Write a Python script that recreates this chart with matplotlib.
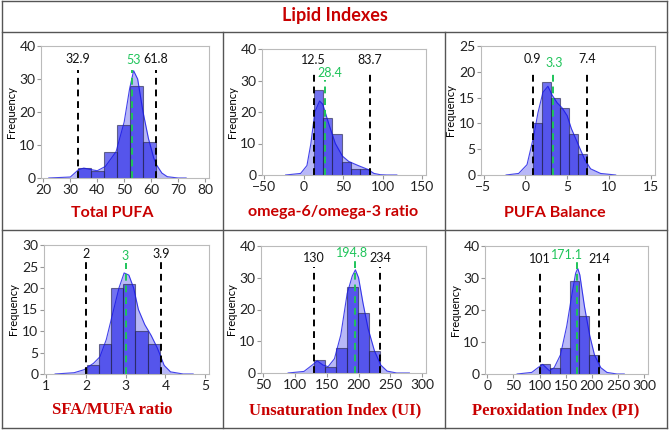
import numpy as np
import matplotlib.pyplot as plt
from matplotlib.lines import Line2D

# histogram counts (6 equal bins between bin_lo and bin_hi)
titles = ["Total PUFA", "omega-6/omega-3 ratio", "PUFA Balance",
          "SFA/MUFA ratio", "Unsaturation Index (UI)", "Peroxidation Index (PI)"]
counts = [[3, 2, 8, 16, 28, 11],
          [27, 18, 13, 4, 2, 2],
          [10, 18, 15, 13, 8, 4],
          [2, 7, 20, 21, 10, 7],
          [4, 2, 8, 27, 19, 7],
          [3, 2, 8, 29, 18, 6]]
bin_lo = [32.9, 12.5, 0.9, 2.02, 130, 101]
bin_hi = [61.8, 83.7, 7.4, 3.86, 234, 214]

# reference lines: lower / upper limit (black) and centre (green)
low_lbl = ["32.9", "12.5", "0.9", "2", "130", "101"]
low_val = [32.9, 12.5, 0.9, 2.0, 130, 101]
high_lbl = ["61.8", "83.7", "7.4", "3.9", "234", "214"]
high_val = [61.8, 83.7, 7.4, 3.9, 234, 214]
mid_lbl = ["53", "28.4", "3.3", "3", "194.8", "171.1"]
mid_val = [53, 26.5, 3.3, 3.0, 194.8, 171.1]
mid_lbl_x = [53.5, 33.5, 3.5, 2.98, 190, 153]

# density curves (scaled to counts)
kde_x = [[22, 30, 33, 35, 38, 40, 43, 47, 50, 52, 53.5, 55, 57, 59, 61, 62, 64, 66, 70, 73],
         [-23, -4, 4, 9, 14, 20, 24, 32, 40, 49, 57, 69, 81, 89, 97, 105, 118],
         [-2.3, -0.8, 0.2, 1.0, 1.5, 2.1, 2.7, 3.2, 3.8, 4.4, 5.0, 5.5, 6.3, 7.1, 7.8, 9.0, 10.8],
         [1.22, 1.7, 1.95, 2.19, 2.35, 2.51, 2.67, 2.83, 2.96, 3.08, 3.2, 3.32, 3.48, 3.64, 3.8, 3.97, 4.13, 4.45, 4.7],
         [89, 114, 127, 135, 144, 152, 162, 172, 182, 190, 195, 200, 207, 215, 225, 235, 245, 260, 280],
         [57, 85, 97, 106, 119, 128, 140, 152, 162, 169, 173, 177, 186, 196, 205, 217, 229, 248, 262]]
kde_y = [[0, 0.3, 2.5, 3, 2.5, 2.2, 3.5, 8, 17, 27, 32.5, 30, 20, 12, 6, 4, 1.5, 0.4, 0, 0],
         [0, 0.5, 3, 10, 20, 23.5, 22.5, 16, 10, 6, 4.3, 3, 1.8, 0.5, 0.1, 0, 0],
         [0, 0.3, 2, 7.5, 12, 16, 17.2, 15.5, 14, 13, 11.5, 9, 6, 3, 1.2, 0.3, 0],
         [0, 0.3, 1.0, 2.5, 4, 8, 14, 20, 23.5, 23, 20, 15, 11.5, 9, 6, 2, 0.5, 0, 0],
         [0, 0.5, 2.5, 3.8, 2.5, 2, 4.5, 12, 25, 30.5, 32.5, 30, 22, 14, 7, 2.5, 0.6, 0, 0],
         [0, 0.5, 2, 3, 1, 2, 6, 15, 25, 31.5, 33, 31, 21, 12, 6, 2, 0.5, 0, 0]]

xticks = [[20, 30, 40, 50, 60, 70, 80], [-50, 0, 50, 100, 150], [-5, 0, 5, 10, 15],
          [1, 2, 3, 4, 5], [50, 100, 150, 200, 250, 300], [0, 50, 100, 150, 200, 250, 300]]
yticks = [[0, 10, 20, 30, 40], [0, 10, 20, 30, 40], [0, 5, 10, 15, 20, 25],
          [0, 5, 10, 15, 20, 25, 30], [0, 10, 20, 30, 40], [0, 10, 20, 30, 40]]

# line tops / label heights (black then green)
blk_top = [32.7, 33.2, 20.4, 26.4, 33.4, 32.6]
blk_txt = [34.2, 34.6, 21.3, 26.6, 34.4, 34.0]
grn_top = [32.7, 30.3, 20.0, 25.7, 35.7, 35.3]
grn_txt = [34.0, 30.6, 20.5, 26.0, 36.0, 35.3]

W, H = 669, 430
boxes = [(41, 46, 209, 178), (262, 49, 426, 175), (481, 46, 655, 175),
         (44, 245, 209, 374), (261, 246, 426, 373), (485, 246, 648, 374)]
title_pos = [(112, 213), (333, 212), (555, 213), (112, 410), (335, 410), (556, 410)]

red = '#c80000'
blue = '#1414e6'
green = '#1fc45a'
sans = 'Lato'

fig = plt.figure(figsize=(W / 100, H / 100), dpi=100)

for i in range(6):
    l, t, r, b = boxes[i]
    ax = fig.add_axes([l / W, 1 - b / H, (r - l) / W, (b - t) / H])
    ax.fill_between(kde_x[i], kde_y[i], color=blue, alpha=0.3, lw=0)
    ax.plot(kde_x[i], kde_y[i], color=blue, lw=0.8, alpha=0.8)
    edges = np.linspace(bin_lo[i], bin_hi[i], 7)
    ax.bar(edges[:-1], counts[i], width=np.diff(edges), align='edge',
           color=blue, alpha=0.6, edgecolor='#222244', linewidth=0.8)

    for xv, lbl in [(low_val[i], low_lbl[i]), (high_val[i], high_lbl[i])]:
        ax.plot([xv, xv], [0, blk_top[i]], color='black', lw=1.4, ls=(0, (3.5, 2.5)))
        ax.text(xv, blk_txt[i], lbl, ha='center', va='bottom', fontsize=9,
                family=sans, color='#111111')
    ax.plot([mid_val[i], mid_val[i]], [0, grn_top[i]], color=green, lw=1.4, ls=(0, (3.5, 2.5)))
    ax.text(mid_lbl_x[i], grn_txt[i], mid_lbl[i], ha='center', va='bottom', fontsize=9,
            family=sans, color=green)

    xt = xticks[i]
    span = xt[-1] - xt[0]
    ax.set_xlim(xt[0] - 0.015 * span, xt[-1] + 0.025 * span)
    ax.set_ylim(0, yticks[i][-1])
    ax.set_xticks(xt)
    ax.set_yticks(yticks[i])
    ax.tick_params(colors='#999999', labelcolor='#222222', length=3, width=0.8,
                   labelsize=10, pad=1)
    for lab in ax.get_xticklabels() + ax.get_yticklabels():
        lab.set_family(sans)
    for s in ax.spines.values():
        s.set_color('#bbbbbb')
        s.set_linewidth(0.8)
    ax.set_ylabel("Frequency", fontsize=8, family=sans, labelpad=2)

    tx, ty = title_pos[i]
    if i < 3:
        fig.text(tx / W, 1 - ty / H, titles[i], ha='center', va='center', color=red,
                 fontsize=11.5, fontweight='bold', family=sans)
    else:
        fig.text(tx / W, 1 - ty / H, titles[i], ha='center', va='center', color=red,
                 fontsize=12, fontweight='bold', family='Liberation Serif')

fig.text(335 / W, 1 - 16 / H, "Lipid Indexes", ha='center', va='center', color=red,
         fontsize=13, fontweight='bold', family=sans)

# table borders
def hline(y, x0=2, x1=667):
    fig.add_artist(Line2D([x0 / W, x1 / W], [1 - y / H, 1 - y / H], color='#555555', lw=1))

def vline(x, y0=1, y1=428):
    fig.add_artist(Line2D([x / W, x / W], [1 - y0 / H, 1 - y1 / H], color='#555555', lw=1))

hline(1)
hline(32)
hline(230)
hline(428)
vline(2)
vline(667)
vline(223, 32)
vline(445, 32)

fig.savefig("out.png", dpi=100)
